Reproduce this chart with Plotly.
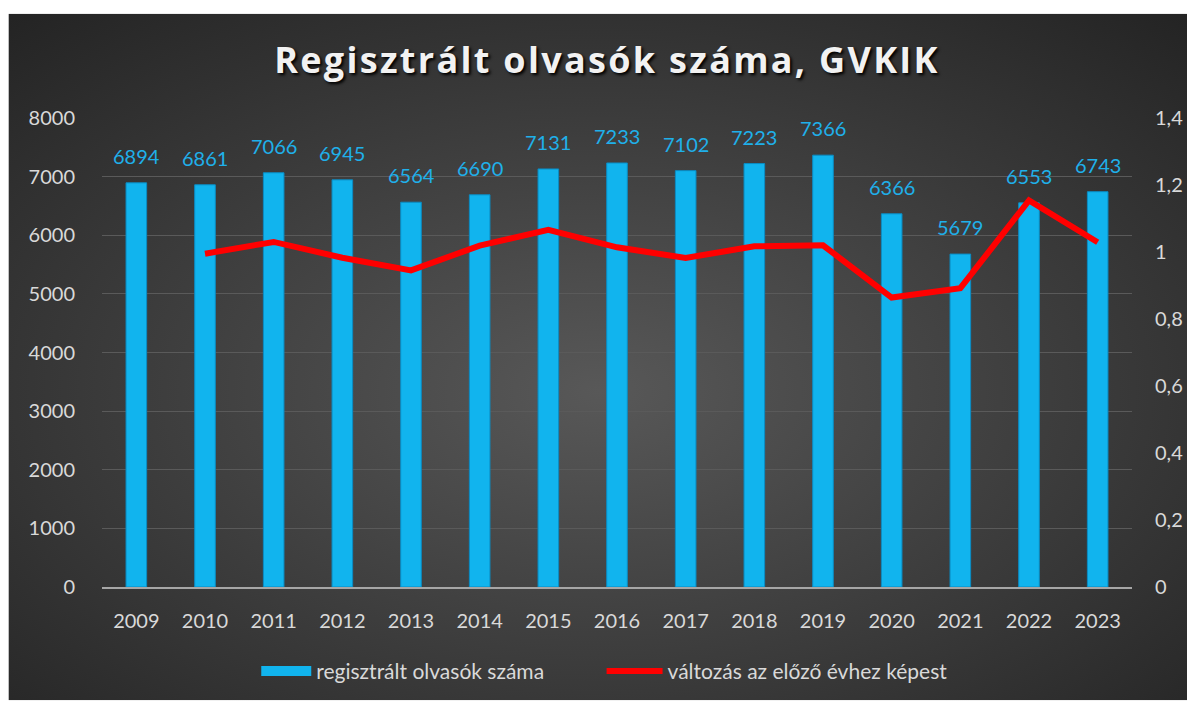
import plotly.graph_objects as go

years = ["2009", "2010", "2011", "2012", "2013", "2014", "2015", "2016",
         "2017", "2018", "2019", "2020", "2021", "2022", "2023"]
readers = [6894, 6861, 7066, 6945, 6564, 6690, 7131, 7233, 7102, 7223, 7366,
           6366, 5679, 6553, 6743]
change_years = years[1:]
change = [0.995, 1.030, 0.983, 0.945, 1.019, 1.066, 1.014, 0.982, 1.017,
          1.020, 0.864, 0.892, 1.154, 1.029]

# page body has an 8px margin, so the figure is sized to fit the window
W, H = 1187, 696
ML, MR, MT, MB = 94, 58, 110, 114
PW, PH = W - ML - MR, H - MT - MB

FONT = "Lato"
TICK = "#d9d9d9"
LABEL = "#1fb0ea"
BAR = "#11b4ee"

bg_svg = ("data:image/svg+xml;utf8,"
          "<svg xmlns='http://www.w3.org/2000/svg' width='1187' height='691' preserveAspectRatio='none'>"
          "<defs><radialGradient id='g' cx='50%' cy='55%' r='75%'>"
          "<stop offset='0' stop-color='%23585858'/>"
          "<stop offset='1' stop-color='%23232323'/></radialGradient></defs>"
          "<rect width='1187' height='691' fill='url(%23g)'/></svg>")

fig = go.Figure()
fig.add_trace(go.Bar(
    x=years, y=readers, name="regisztrált olvasók száma",
    marker=dict(color=BAR, line=dict(color="#0a8cc4", width=1)),
    width=0.3, showlegend=False,
))
# legend entry for the bars, drawn as a wide block like the reference
fig.add_trace(go.Scatter(
    x=[None], y=[None], name="regisztrált olvasók száma",
    mode="lines", line=dict(color=BAR, width=14), legend="legend",
))
fig.add_trace(go.Scatter(
    x=change_years, y=change, name="változás az előző évhez képest",
    mode="lines", yaxis="y2", legend="legend2",
    line=dict(color="#ff0000", width=6),
))

for i, v in enumerate(readers):
    fig.add_annotation(x=i, y=v, xref="x", yref="y", text=str(v),
                       showarrow=False, yshift=27,
                       font=dict(family=FONT, size=20, color=LABEL))

fig.add_layout_image(dict(
    source=bg_svg, xref="paper", yref="paper",
    x=(0 - ML) / PW, y=(H - MB - 5) / PH,
    sizex=W / PW, sizey=(H - 5) / PH,
    sizing="stretch", layer="below", xanchor="left", yanchor="top",
))

leg_common = dict(orientation="h", yanchor="middle", y=(H - MB - 667) / PH,
                  xanchor="left", font=dict(family=FONT, size=21, color=TICK),
                  bgcolor="rgba(0,0,0,0)")

fig.update_layout(
    width=W, height=H,
    margin=dict(l=ML, r=MR, t=MT, b=MB),
    paper_bgcolor="white", plot_bgcolor="rgba(0,0,0,0)",
    separators=", ",
    font=dict(family=FONT, size=20, color=TICK),
    title=dict(text="<b>Regisztrált olvasók száma, GVKIK</b>",
               x=599 / W, xanchor="center", y=1 - 52 / H, yanchor="middle",
               font=dict(family="Open Sans", size=36, color="#f2f2f2",
                         shadow="2px 2px 3px #000000")),
    xaxis=dict(type="category", range=[-0.5, len(years) - 0.5],
               showgrid=False, showline=True,
               linecolor="#a6a6a6", linewidth=2,
               ticks="", ticklabelstandoff=15,
               tickfont=dict(family=FONT, size=20, color=TICK)),
    yaxis=dict(range=[0, 8000], dtick=1000, showgrid=True,
               gridcolor="#5a5a5a", gridwidth=1, zeroline=False,
               ticks="", ticklabelstandoff=26,
               tickfont=dict(family=FONT, size=20, color=TICK)),
    yaxis2=dict(range=[0, 1.4], dtick=0.2, overlaying="y", side="right",
                showgrid=False, zeroline=False, ticks="", ticklabelstandoff=22,
                tickfont=dict(family=FONT, size=20, color=TICK)),
    legend=dict(x=(249 - ML) / PW, itemwidth=50, **leg_common),
    legend2=dict(x=(596 - ML) / PW, itemwidth=56, **leg_common),
    showlegend=True,
)

post = """
var t = document.querySelector('.gtitle');
if (t) { t.style.letterSpacing = '2.3px'; }
"""
fig.write_html("out.html", post_script=post)
